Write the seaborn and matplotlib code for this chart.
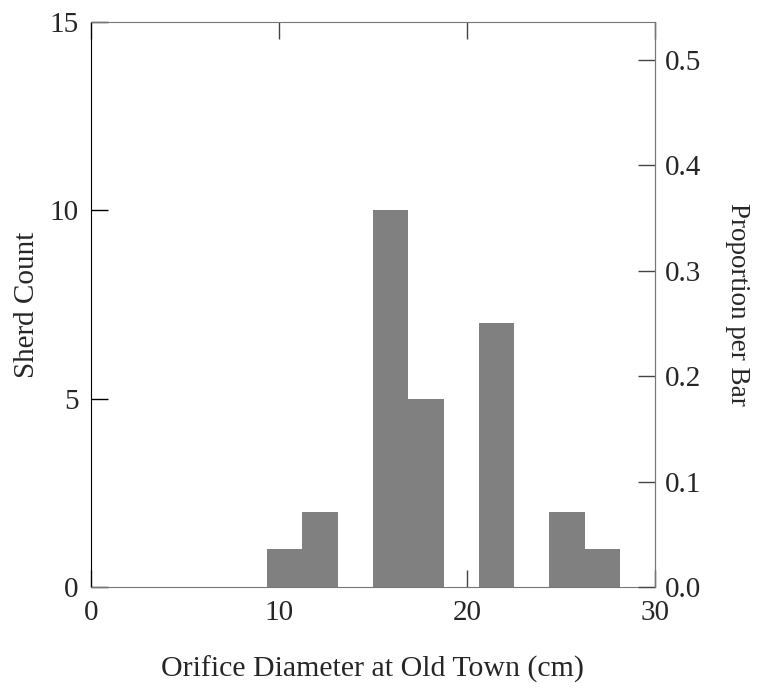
import matplotlib
matplotlib.use("Agg")
import matplotlib.pyplot as plt
import seaborn as sns

# histogram bins (cm) and sherd counts per bin
bin_edges = [0, 1.875, 3.75, 5.625, 7.5, 9.375, 11.25, 13.125, 15.0,
             16.875, 18.75, 20.625, 22.5, 24.375, 26.25, 28.125, 30.0]
counts = [0, 0, 0, 0, 0, 1, 2, 0, 10, 5, 0, 7, 0, 2, 1, 0]
x_ticks = [0, 10, 20, 30]
y_ticks = [0, 5, 10, 15]
prop_ticks = [0.0, 0.1, 0.2, 0.3, 0.4, 0.5]

centers = [(a + b) / 2 for a, b in zip(bin_edges[:-1], bin_edges[1:])]
total = sum(counts)

sns.set_style("ticks")
plt.rcParams["font.family"] = ["Liberation Serif", "DejaVu Serif"]
plt.rcParams["font.size"] = 21

fig = plt.figure(figsize=(7.62, 6.88), dpi=100)
ax = fig.add_axes([0.1194, 0.1468, 0.7402, 0.8212])

sns.histplot(x=centers, weights=counts, bins=bin_edges, color="#808080",
             alpha=1, edgecolor="none", linewidth=0, ax=ax)

ax.set_xlim(0, 30)
ax.set_ylim(0, 15)
ax.set_xticks(x_ticks)
ax.set_yticks(y_ticks)
ax.set_xlabel("Orifice Diameter at Old Town (cm)", labelpad=22, fontsize=21.5)
ax.set_ylabel("Sherd Count", labelpad=7)
ax.tick_params(direction="in", length=12.5, width=1, color="#444444",
               top=True, labelsize=21, pad=9)
ax.tick_params(axis="y", color="black")
ax.spines["left"].set_color("black")
for s in ["bottom", "top", "right"]:
    ax.spines[s].set_color("#777777")

ax2 = ax.twinx()
ax2.set_ylim(0, 15 / total)
ax2.set_yticks(prop_ticks)
ax2.set_yticklabels([f"{t:.1f}" for t in prop_ticks])
ax2.tick_params(direction="in", length=12.5, width=1, color="#444444",
                labelsize=21, pad=7)
ax2.set_ylabel("Proportion per Bar", rotation=270, labelpad=35, fontsize=19.5)
for s in ["bottom", "top", "left", "right"]:
    ax2.spines[s].set_visible(s == "right")
ax2.spines["right"].set_color("#777777")

fig.savefig("out.png", dpi=100)
